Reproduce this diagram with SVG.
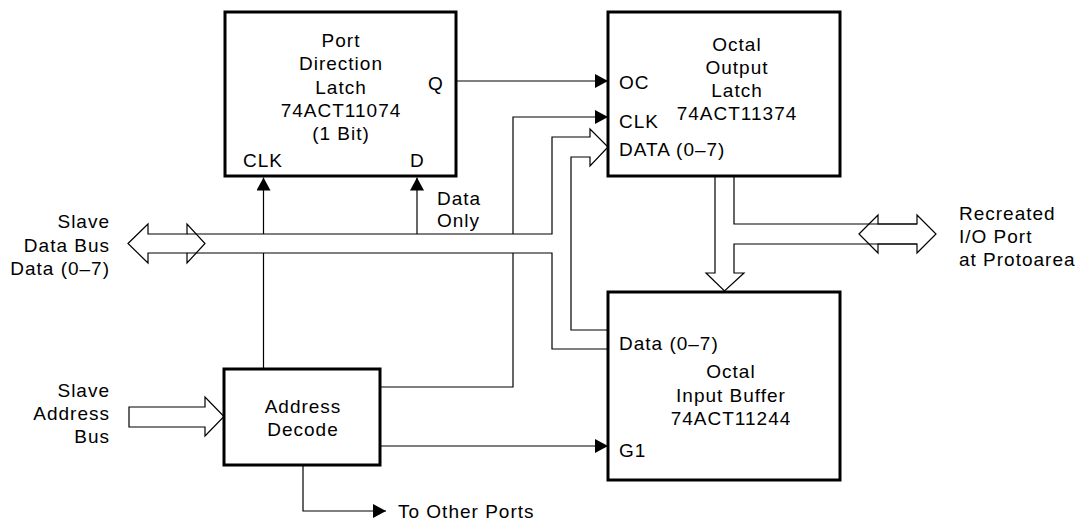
<svg xmlns="http://www.w3.org/2000/svg" width="1078" height="523" viewBox="0 0 1078 523">
<defs>
<style>
text{font-family:"Liberation Sans",Arial,Helvetica,sans-serif;font-size:19px;letter-spacing:1px;fill:#000}
.box{fill:#fff;stroke:#000;stroke-width:3}
.w{fill:none;stroke:#000;stroke-width:1.2}
.m{text-anchor:middle}
.e{text-anchor:end}
</style>
<marker id="ah" markerWidth="13" markerHeight="14" refX="13" refY="7" orient="auto" markerUnits="userSpaceOnUse"><path d="M0,0 L13,7 L0,14 z" fill="#000"/></marker>
</defs>
<rect x="0" y="0" width="1078" height="523" fill="#fff"/>

<g id="connectors">
  <path class="w" d="M456,81 H608" marker-end="url(#ah)"/>
  <path class="w" d="M380,387 H513 V253 M513,234 V117 H608" marker-end="url(#ah)"/>
  <path class="w" d="M263.5,369 V253 M263.5,234 V177.5" marker-end="url(#ah)"/>
  <path class="w" d="M417,234 V177.5" marker-end="url(#ah)"/>
  <path class="w" d="M380,446 H608" marker-end="url(#ah)"/>
  <path class="w" d="M303,465 V511 H386" marker-end="url(#ah)"/>
  <polygon class="w" points="128,243.5 148,224 148,234 187,234 187,224 205,243.5 187,263 187,253 148,253 148,263"/>
  <path class="w" d="M187,234 H552 V137 H590 V129 L608,147 L590,166 V157 H571 V330 H608"/>
  <path class="w" d="M187,253 H552 V349 H608"/>
  <polygon class="w" points="129,407 205,407 205,397 224,416.5 205,436 205,427 129,427"/>
  <path class="w" d="M715,177 V273 H706 L724.5,291 L744,273 H734 V244 H917"/>
  <path class="w" d="M734,177 V224 H917"/>
  <polygon class="w" points="859,234 878,215 878,224 917,224 917,215 936,234 917,253 917,244 878,244 878,253"/>
</g>

<g id="port-direction-latch">
  <rect class="box" x="225" y="12" width="231" height="164"/>
  <text class="m" x="341" y="47">Port</text>
  <text class="m" x="341" y="70">Direction</text>
  <text class="m" x="341" y="94">Latch</text>
  <text class="m" x="341" y="117">74ACT11074</text>
  <text class="m" x="341" y="140">(1 Bit)</text>
  <text x="428" y="90">Q</text>
  <text x="243" y="167">CLK</text>
  <text x="410" y="167">D</text>
</g>

<g id="octal-output-latch">
  <rect class="box" x="608" y="12" width="232" height="164"/>
  <text class="m" x="737" y="51">Octal</text>
  <text class="m" x="737" y="74">Output</text>
  <text class="m" x="737" y="97">Latch</text>
  <text class="m" x="737" y="120">74ACT11374</text>
  <text x="619" y="89">OC</text>
  <text x="619" y="128">CLK</text>
  <text x="619" y="156">DATA (0–7)</text>
</g>

<g id="octal-input-buffer">
  <rect class="box" x="608" y="292" width="232" height="188"/>
  <text x="619" y="350">Data (0–7)</text>
  <text class="m" x="731" y="378">Octal</text>
  <text class="m" x="731" y="401.5">Input Buffer</text>
  <text class="m" x="731" y="425">74ACT11244</text>
  <text x="619" y="457">G1</text>
</g>

<g id="address-decode">
  <rect class="box" x="224" y="369" width="156" height="96"/>
  <text class="m" x="303" y="413">Address</text>
  <text class="m" x="303" y="436">Decode</text>
</g>

<g id="slave-data-bus-label">
  <text class="e" x="110" y="228">Slave</text>
  <text class="e" x="110" y="252">Data Bus</text>
  <text class="e" x="110" y="275">Data (0–7)</text>
</g>

<g id="data-only-label">
  <text x="437" y="205">Data</text>
  <text x="437" y="227">Only</text>
</g>

<g id="slave-address-bus-label">
  <text class="e" x="110" y="397">Slave</text>
  <text class="e" x="110" y="420">Address</text>
  <text class="e" x="110" y="443">Bus</text>
</g>

<g id="io-port-label">
  <text x="959" y="220">Recreated</text>
  <text x="959" y="243">I/O Port</text>
  <text x="959" y="266">at Protoarea</text>
</g>

<g id="other-ports-label">
  <text x="398" y="518">To Other Ports</text>
</g>
</svg>
